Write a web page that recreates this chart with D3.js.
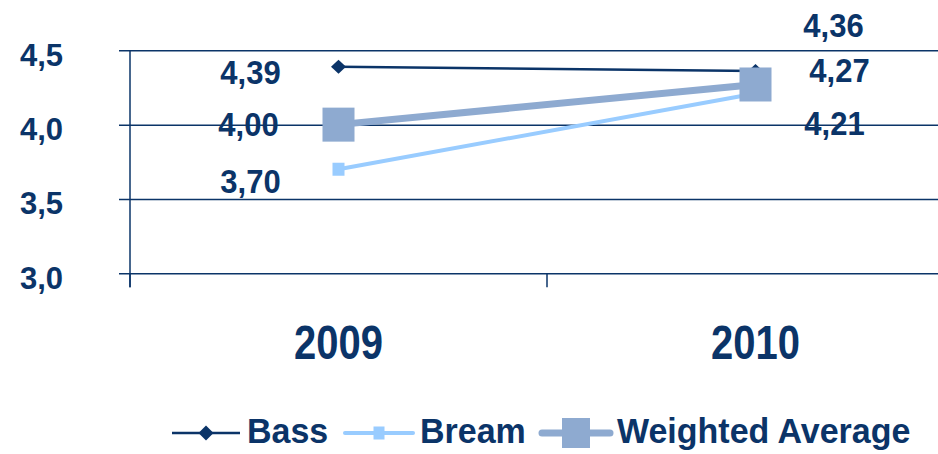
<!DOCTYPE html>
<html>
<head>
<meta charset="utf-8">
<script src="https://cdn.jsdelivr.net/npm/d3@7"></script>
<style>
  body { margin: 0; background: #fff; }
  svg { display: block; font-family: "Liberation Sans", Arial, sans-serif; font-weight: bold; }
</style>
</head>
<body>
<svg id="chart"></svg>
<script>
// data
const years = ["2009", "2010"];
const seriesNames = ["Bass", "Bream", "Weighted Average"];
const bass = [4.39, 4.36];
const bream = [3.70, 4.21];
const weighted = [4.00, 4.27];
const yTicks = [3.0, 3.5, 4.0, 4.5];

const navy = "#0b3468";
const svgWidth = 938, svgHeight = 454;
const plot = { left: 130, top: 50.3, right: 964, bottom: 273.3 };

const svg = d3.select("#chart").attr("width", svgWidth).attr("height", svgHeight);

const x = d3.scaleBand().domain(years).range([plot.left, plot.right]).padding(0);
const y = d3.scaleLinear().domain([3, 4.5]).range([plot.bottom, plot.top]);
const fmt = v => d3.format(".2f")(v).replace(".", ",");

// text in the original is a bit stretched vertically
function tallText(parent, tx, ty, str, size, stretch, anchor) {
    return parent.append("text")
        .attr("transform", `translate(${tx},${ty}) scale(1,${stretch})`)
        .attr("text-anchor", anchor || "middle")
        .attr("fill", navy)
        .style("font-size", size + "px")
        .text(str);
}

// gridlines + y labels
const yAxis = svg.append("g")
    .attr("transform", `translate(${plot.left},0)`)
    .call(d3.axisLeft(y).tickValues(yTicks).tickSize(-(svgWidth - plot.left)).tickPadding(67)
        .tickFormat(d => d3.format(".1f")(d).replace(".", ",")));
yAxis.select(".domain").remove();
yAxis.selectAll(".tick line").attr("x1", -11).attr("stroke", navy).attr("stroke-width", 1.5);
yAxis.selectAll(".tick text")
    .attr("fill", navy).attr("dy", "0.48em")
    .style("font-size", "31px").style("font-weight", "bold")
    .style("font-family", "'Liberation Sans', Arial, sans-serif");

// y axis line
svg.append("line")
    .attr("x1", plot.left).attr("x2", plot.left)
    .attr("y1", plot.top).attr("y2", plot.bottom + 14)
    .attr("stroke", navy).attr("stroke-width", 1.5);

// category ticks and labels
svg.selectAll(".xtick").data(years).join("line")
    .attr("class", "xtick")
    .attr("x1", d => x(d)).attr("x2", d => x(d))
    .attr("y1", plot.bottom).attr("y2", plot.bottom + 14)
    .attr("stroke", navy).attr("stroke-width", 1.5);
years.forEach(d => tallText(svg, x(d) + x.bandwidth() / 2, 359, d, 40, 1.18));

const series = [
    { name: seriesNames[0], values: bass, color: navy, width: 2.5, marker: "diamond", mw: 15, mh: 14,
      lw: 15, lh: 15, offsets: [[-88, 17], [78, -34]] },
    { name: seriesNames[1], values: bream, color: "#99ccff", width: 4, marker: "square", mw: 12, mh: 13,
      lw: 11, lh: 13, offsets: [[-88, 24], [79, 42]] },
    { name: seriesNames[2], values: weighted, color: "#8eaad0", width: 7, marker: "square", mw: 32, mh: 34,
      lw: 28, lh: 30, offsets: [[-90, 11], [84, -2]] }
];

const cx = d => x(d) + x.bandwidth() / 2;

function drawMarker(g, s, px, py, w, h) {
    if (s.marker === "diamond") {
        g.append("path")
            .attr("d", `M${px},${py - h / 2}L${px + w / 2},${py}L${px},${py + h / 2}L${px - w / 2},${py}Z`)
            .attr("fill", s.color);
    } else {
        g.append("rect")
            .attr("x", px - w / 2).attr("y", py - h / 2)
            .attr("width", w).attr("height", h)
            .attr("fill", s.color);
    }
}

const line = d3.line().x((d, i) => cx(years[i])).y(d => y(d));

series.forEach(s => {
    const g = svg.append("g");
    g.append("path")
        .datum(s.values)
        .attr("fill", "none")
        .attr("stroke", s.color)
        .attr("stroke-width", s.width)
        .attr("d", line);
    s.values.forEach((v, i) => drawMarker(g, s, cx(years[i]), y(v), s.mw, s.mh));
});

// data labels
series.forEach(s => {
    s.values.forEach((v, i) => {
        tallText(svg, cx(years[i]) + s.offsets[i][0], y(v) + s.offsets[i][1], fmt(v), 31, 1.08);
    });
});

// legend
const legendY = 433;
const legendX = [172, 345, 542];
series.forEach((s, i) => {
    const g = svg.append("g");
    const x0 = legendX[i];
    g.append("line")
        .attr("x1", x0).attr("x2", x0 + 68)
        .attr("y1", legendY).attr("y2", legendY)
        .attr("stroke", s.color).attr("stroke-width", s.width)
        .attr("stroke-linecap", i === 0 ? "butt" : "round");
    drawMarker(g, s, x0 + 34, legendY, s.lw, s.lh);
    tallText(g, x0 + 75, legendY + 10, s.name, 34, 1.04, "start");
});
</script>
</body>
</html>
